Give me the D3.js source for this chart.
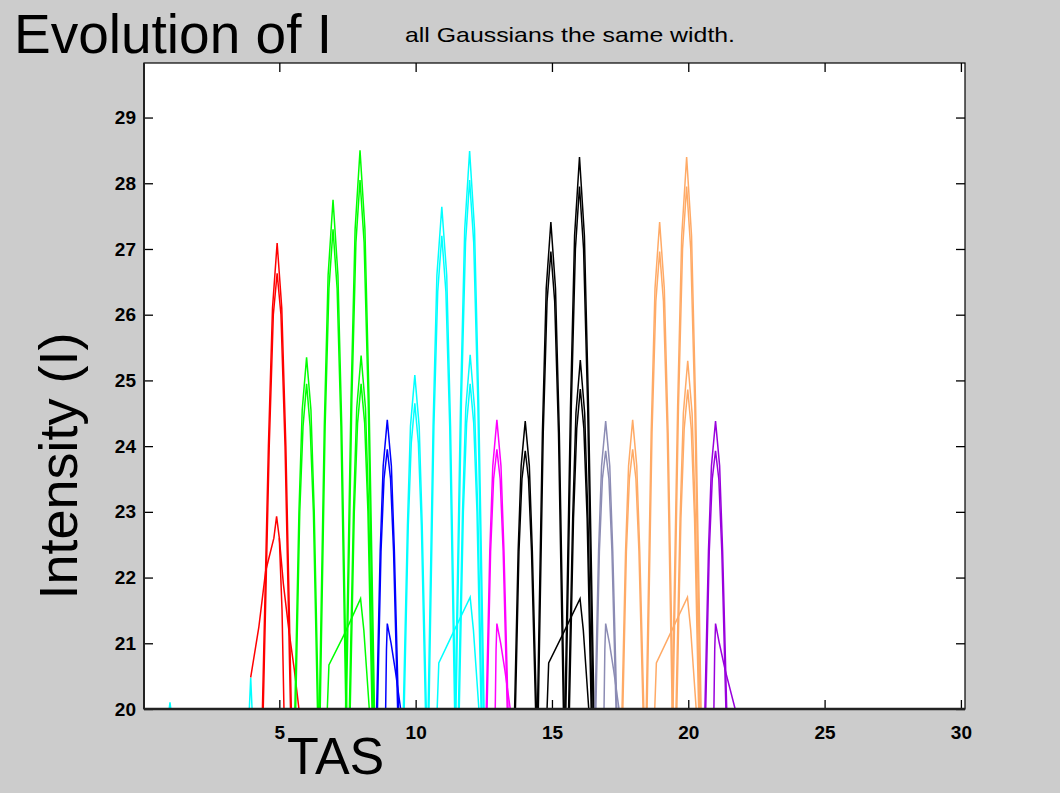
<!DOCTYPE html>
<html>
<head>
<meta charset="utf-8">
<script src="https://cdn.jsdelivr.net/npm/d3@7"></script>
<style>
  body { margin: 0; background: #cccccc; }
  text { font-family: "Liberation Sans", Arial, sans-serif; }
</style>
</head>
<body>
<div id="vis"></div>
<script>
const WIDTH = 1060;
const HEIGHT = 793;

const X_TICKS = [5, 10, 15, 20, 25, 30];
const Y_TICKS = [20, 21, 22, 23, 24, 25, 26, 27, 28, 29];

// each line is a list of [TAS, I] points
// (most peaks show up twice, a second curve a little lower)
const cyanLines = [
  [[0.96, 20], [0.99, 20.1], [1.02, 20]],
  [[3.9, 20], [3.95, 20.48], [4.0, 20]],
  [[9.55, 20], [9.7, 22.8], [9.81, 24.3], [9.97, 25.08], [10.13, 24.3], [10.24, 22.8], [10.39, 20]],
  [[9.58, 20], [9.73, 22.8], [9.84, 24.05], [9.97, 24.65], [10.1, 24.05], [10.21, 22.8], [10.36, 20]],
  [[10.46, 20], [10.64, 24.3], [10.78, 26.6], [10.96, 27.64], [11.14, 26.6], [11.28, 24.3], [11.46, 20]],
  [[10.49, 20], [10.67, 24.3], [10.81, 26.35], [10.96, 27.2], [11.11, 26.35], [11.25, 24.3], [11.43, 20]],
  [[11.45, 20], [11.65, 24.7], [11.8, 27.3], [11.98, 28.49], [12.16, 27.3], [12.31, 24.7], [12.51, 20]],
  [[11.48, 20], [11.68, 24.7], [11.83, 27.1], [11.98, 28.05], [12.13, 27.1], [12.28, 24.7], [12.48, 20]],
  [[11.57, 20], [11.72, 23.0], [11.84, 24.58], [12.0, 25.39], [12.16, 24.58], [12.28, 23.0], [12.43, 20]],
  [[11.6, 20], [11.75, 23.0], [11.87, 24.35], [12.0, 24.95], [12.13, 24.35], [12.25, 23.0], [12.4, 20]],
  [[10.79, 20], [10.85, 20.7], [11.42, 21.2], [12.0, 21.7], [12.12, 21.2], [12.22, 20.6], [12.32, 20]]
];

const redLines = [
  [[4.38, 20], [4.6, 24.0], [4.75, 26.1], [4.92, 27.09], [5.09, 26.1], [5.24, 24.0], [5.44, 20]],
  [[4.41, 20], [4.63, 24.0], [4.78, 26.0], [4.92, 26.63], [5.06, 26.0], [5.21, 24.0], [5.41, 20]],
  [[3.95, 20.48], [4.25, 21.25], [4.5, 22.1], [4.8, 22.6], [4.9, 22.93], [5.0, 22.6], [5.15, 21.9], [5.35, 21.2], [5.55, 20.6], [5.72, 20]],
  [[5.0, 22.6], [5.1, 21.5], [5.17, 20]]
];

const greenLines = [
  [[5.57, 20], [5.72, 23.0], [5.84, 24.55], [6.0, 25.35], [6.16, 24.55], [6.28, 23.0], [6.43, 20]],
  [[5.6, 20], [5.75, 23.0], [5.87, 24.3], [6.0, 24.95], [6.13, 24.3], [6.25, 23.0], [6.4, 20]],
  [[6.47, 20], [6.65, 24.3], [6.79, 26.6], [6.97, 27.75], [7.15, 26.6], [7.29, 24.3], [7.47, 20]],
  [[6.5, 20], [6.68, 24.3], [6.82, 26.4], [6.97, 27.3], [7.12, 26.4], [7.26, 24.3], [7.44, 20]],
  [[7.43, 20], [7.63, 24.7], [7.78, 27.3], [7.96, 28.5], [8.14, 27.3], [8.29, 24.7], [8.49, 20]],
  [[7.46, 20], [7.66, 24.7], [7.81, 27.1], [7.96, 28.05], [8.11, 27.1], [8.26, 24.7], [8.46, 20]],
  [[7.57, 20], [7.72, 23.0], [7.84, 24.58], [8.0, 25.38], [8.16, 24.58], [8.28, 23.0], [8.43, 20]],
  [[7.6, 20], [7.75, 23.0], [7.87, 24.35], [8.0, 24.95], [8.13, 24.35], [8.25, 23.0], [8.4, 20]],
  [[6.76, 20], [6.82, 20.67], [7.4, 21.15], [7.98, 21.68], [8.1, 21.2], [8.2, 20.6], [8.3, 20]]
];

const blueLines = [
  [[8.57, 20], [8.7, 22.4], [8.81, 23.7], [8.96, 24.4], [9.11, 23.7], [9.22, 22.4], [9.37, 20]],
  [[8.6, 20], [8.73, 22.4], [8.84, 23.5], [8.96, 23.95], [9.08, 23.5], [9.19, 22.4], [9.34, 20]],
  [[8.9, 20], [8.93, 20.9], [8.96, 21.3], [9.1, 21.0], [9.25, 20.6], [9.45, 20]]
];

const magentaLines = [
  [[12.59, 20], [12.72, 22.4], [12.83, 23.7], [12.98, 24.4], [13.13, 23.7], [13.24, 22.4], [13.39, 20]],
  [[12.62, 20], [12.75, 22.4], [12.86, 23.5], [12.98, 23.95], [13.1, 23.5], [13.21, 22.4], [13.36, 20]],
  [[12.92, 20], [12.95, 20.9], [12.98, 21.3], [13.12, 21.0], [13.27, 20.6], [13.47, 20]]
];

const blackLines = [
  [[13.63, 20], [13.76, 22.4], [13.87, 23.7], [14.02, 24.38], [14.17, 23.7], [14.28, 22.4], [14.43, 20]],
  [[13.66, 20], [13.79, 22.4], [13.9, 23.5], [14.02, 23.93], [14.14, 23.5], [14.25, 22.4], [14.4, 20]],
  [[14.47, 20], [14.65, 24.2], [14.79, 26.4], [14.96, 27.41], [15.13, 26.4], [15.27, 24.2], [15.45, 20]],
  [[14.5, 20], [14.68, 24.2], [14.82, 26.2], [14.96, 26.96], [15.1, 26.2], [15.24, 24.2], [15.42, 20]],
  [[15.48, 20], [15.68, 24.6], [15.83, 27.2], [16.01, 28.4], [16.19, 27.2], [16.34, 24.6], [16.54, 20]],
  [[15.51, 20], [15.71, 24.6], [15.86, 27.0], [16.01, 27.95], [16.16, 27.0], [16.31, 24.6], [16.51, 20]],
  [[15.61, 20], [15.76, 22.9], [15.88, 24.5], [16.04, 25.31], [16.2, 24.5], [16.32, 22.9], [16.47, 20]],
  [[15.64, 20], [15.79, 22.9], [15.91, 24.27], [16.04, 24.87], [16.17, 24.27], [16.29, 22.9], [16.44, 20]],
  [[14.82, 20], [14.88, 20.7], [15.45, 21.18], [16.03, 21.68], [16.15, 21.2], [16.25, 20.6], [16.35, 20]]
];

const grayLines = [
  [[16.58, 20], [16.71, 22.4], [16.82, 23.7], [16.97, 24.38], [17.12, 23.7], [17.23, 22.4], [17.38, 20]],
  [[16.61, 20], [16.74, 22.4], [16.85, 23.5], [16.97, 23.93], [17.09, 23.5], [17.2, 22.4], [17.35, 20]],
  [[16.91, 20], [16.94, 20.9], [16.97, 21.3], [17.11, 21.0], [17.26, 20.6], [17.46, 20]]
];

const orangeLines = [
  [[17.57, 20], [17.7, 22.4], [17.81, 23.7], [17.96, 24.4], [18.11, 23.7], [18.22, 22.4], [18.37, 20]],
  [[17.6, 20], [17.73, 22.4], [17.84, 23.5], [17.96, 23.95], [18.08, 23.5], [18.19, 22.4], [18.34, 20]],
  [[18.46, 20], [18.64, 24.2], [18.78, 26.4], [18.95, 27.41], [19.12, 26.4], [19.26, 24.2], [19.44, 20]],
  [[18.49, 20], [18.67, 24.2], [18.81, 26.2], [18.95, 26.96], [19.09, 26.2], [19.23, 24.2], [19.41, 20]],
  [[19.41, 20], [19.61, 24.6], [19.76, 27.2], [19.94, 28.4], [20.12, 27.2], [20.27, 24.6], [20.47, 20]],
  [[19.44, 20], [19.64, 24.6], [19.79, 27.0], [19.94, 27.95], [20.09, 27.0], [20.24, 24.6], [20.44, 20]],
  [[19.55, 20], [19.7, 22.9], [19.82, 24.5], [19.98, 25.3], [20.14, 24.5], [20.26, 22.9], [20.41, 20]],
  [[19.58, 20], [19.73, 22.9], [19.85, 24.26], [19.98, 24.86], [20.11, 24.26], [20.23, 22.9], [20.38, 20]],
  [[18.77, 20], [18.83, 20.7], [19.4, 21.2], [19.97, 21.7], [20.09, 21.2], [20.19, 20.6], [20.29, 20]]
];

const purpleLines = [
  [[20.61, 20], [20.74, 22.4], [20.85, 23.7], [21.0, 24.38], [21.15, 23.7], [21.26, 22.4], [21.41, 20]],
  [[20.64, 20], [20.77, 22.4], [20.88, 23.5], [21.0, 23.93], [21.12, 23.5], [21.23, 22.4], [21.38, 20]],
  [[20.94, 20], [20.97, 20.9], [21.0, 21.3], [21.14, 21.0], [21.35, 20.6], [21.72, 20]]
];

const series = [
  { color: "#00ffff", lines: cyanLines },
  { color: "#ff0000", lines: redLines },
  { color: "#00ff00", lines: greenLines },
  { color: "#0000ff", lines: blueLines },
  { color: "#ff00ff", lines: magentaLines },
  { color: "#000000", lines: blackLines },
  { color: "#8c8cb4", lines: grayLines },
  { color: "#ffaa66", lines: orangeLines },
  { color: "#9900dd", lines: purpleLines }
];

const MARGINS = { TOP: 63, RIGHT: 95, BOTTOM: 84, LEFT: 144 };

const SVG = d3.select("#vis").append("svg")
  .attr("width", WIDTH)
  .attr("height", HEIGHT);

SVG.append("rect")
  .attr("width", WIDTH)
  .attr("height", HEIGHT)
  .attr("fill", "#cccccc");

const escalaX = d3.scaleLinear()
  .domain([0, 30.15])
  .range([MARGINS.LEFT - 1, WIDTH - MARGINS.RIGHT]);

const escalaY = d3.scaleLinear()
  .domain([20, 29.83])
  .range([HEIGHT - MARGINS.BOTTOM, MARGINS.TOP]);

const [x0, x1] = escalaX.range();
const [y0, y1] = escalaY.range();

SVG.append("rect")
  .attr("x", MARGINS.LEFT)
  .attr("y", y1)
  .attr("width", x1 - MARGINS.LEFT)
  .attr("height", y0 - y1)
  .attr("fill", "white");

const contenedorLineas = SVG.append("g").attr("id", "lineas");

const linea = d3.line()
  .x(d => escalaX(d[0]))
  .y(d => escalaY(d[1]));

series.forEach(s => {
  contenedorLineas.selectAll(null)
    .data(s.lines)
    .join("path")
    .attr("d", linea)
    .attr("fill", "none")
    .attr("stroke", s.color)
    .attr("stroke-width", 1.5);
});

// ejes con ticks hacia adentro
const ejeX = d3.axisBottom(escalaX).tickValues(X_TICKS).tickSize(-9).tickPadding(17);
const ejeXTop = d3.axisTop(escalaX).tickValues(X_TICKS).tickSize(-9).tickFormat("");
const ejeY = d3.axisLeft(escalaY).tickValues(Y_TICKS).tickSize(-9).tickPadding(8);
const ejeYRight = d3.axisRight(escalaY).tickValues(Y_TICKS).tickSize(-9).tickFormat("");

function estilo(g) {
  g.select(".domain").remove();
  g.selectAll(".tick line").attr("stroke", "black").attr("stroke-width", 1.3);
  g.selectAll(".tick text")
    .attr("fill", "black")
    .style("font-size", "19px")
    .style("font-weight", "bold")
    .style("font-family", "'Liberation Sans', Arial, sans-serif");
}

SVG.append("g").attr("transform", `translate(0, ${y0})`).call(ejeX).call(estilo);
SVG.append("g").attr("transform", `translate(0, ${y1})`).call(ejeXTop).call(estilo);
SVG.append("g").attr("transform", `translate(${MARGINS.LEFT}, 0)`).call(ejeY).call(estilo);
SVG.append("g").attr("transform", `translate(${x1}, 0)`).call(ejeYRight).call(estilo);

// marco
SVG.append("rect")
  .attr("x", MARGINS.LEFT)
  .attr("y", y1)
  .attr("width", x1 - MARGINS.LEFT)
  .attr("height", y0 - y1)
  .attr("fill", "none")
  .attr("stroke", "black")
  .attr("stroke-width", 1.2);

SVG.append("line")
  .attr("x1", MARGINS.LEFT).attr("x2", x1)
  .attr("y1", y0).attr("y2", y0)
  .attr("stroke", "#222").attr("stroke-width", 2.5);

SVG.append("line")
  .attr("x1", MARGINS.LEFT).attr("x2", MARGINS.LEFT)
  .attr("y1", y1).attr("y2", y0)
  .attr("stroke", "#222").attr("stroke-width", 2);

// textos
SVG.append("text")
  .attr("x", 14)
  .attr("y", 53)
  .style("font-size", "55px")
  .text("Evolution of I");

SVG.append("text")
  .attr("x", 405)
  .attr("y", 42)
  .attr("textLength", 330)
  .attr("lengthAdjust", "spacingAndGlyphs")
  .style("font-size", "21px")
  .text("all Gaussians the same width.");

SVG.append("text")
  .attr("transform", "translate(77, 466) rotate(-90)")
  .attr("text-anchor", "middle")
  .style("font-size", "54px")
  .text("Intensity (I)");

SVG.append("text")
  .attr("x", 287)
  .attr("y", 774)
  .style("font-size", "52px")
  .text("TAS");
</script>
</body>
</html>
